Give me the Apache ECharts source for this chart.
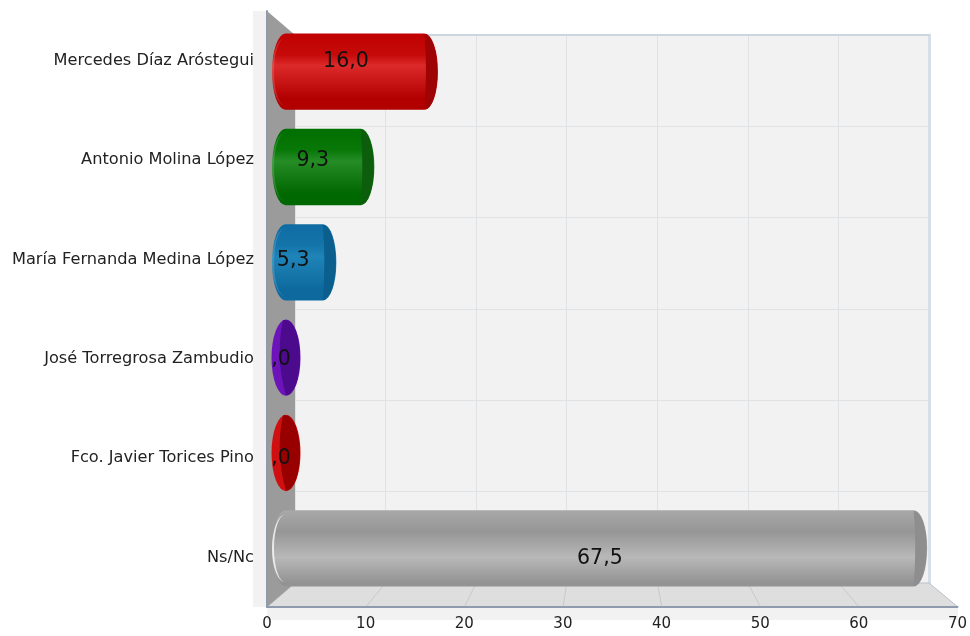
<!DOCTYPE html>
<html><head><meta charset="utf-8">
<style>html,body{margin:0;padding:0;background:#fff}#c{width:970px;height:636px}</style>
<script src="https://cdn.jsdelivr.net/npm/echarts@6/dist/echarts.min.js"></script>
</head><body><div id="c"></div>
<script>
const categories = ['Mercedes Díaz Aróstegui','Antonio Molina López','María Fernanda Medina López','José Torregrosa Zambudio','Fco. Javier Torices Pino','Ns/Nc'];
const values = [16.0, 9.3, 5.3, 0, 0, 67.5];
const topShade = ['#c00000','#006e00','#0f6ca2','#5a0a9c','#a80000','#a8a8a8'];
const midShade = ['#c60a0a','#087808','#1475ab','#5a0a9c','#a80000','#969696'];
const lightShade = ['#dc2a2a','#268c26','#1f84b8','#6c14ba','#d01010','#b8b8b8'];
const bottomShade = ['#b20000','#006800','#0e6a9e','#5a0a9c','#a80000','#939393'];
const capShade = ['#9e0404','#0c5e0c','#0b5f8e','#4c0a8c','#980000','#8e8e8e'];
const rimAlpha = [0.15,0.15,0.15,0.3,0.3,0.75];

const LF = '"DejaVu Sans"';
const F = {l:267, t:11, r:958, b:607};   // front plane
const B = {l:295, t:35, r:929, b:583};   // back plane
const ticks = [0,10,20,30,40,50,60,70];
const px = (p,v)=>p.l+(p.r-p.l)*v/70;

const chart = echarts.init(document.getElementById('c'));

function bar(params, api){
  const i = api.value(2), v = api.value(0);
  const c = api.coord([v, api.value(1)]);
  const c0 = api.coord([0, api.value(1)]);
  const h = api.size([0,1])[1]*0.8, ry = h/2;
  const y0 = c[1]-ry, y1 = c[1]+ry;
  const grad = ()=>new echarts.graphic.LinearGradient(0,0,0,1,[
    {offset:0,color:topShade[i]},{offset:.28,color:midShade[i]},{offset:i===5?.62:.42,color:lightShade[i]},{offset:i===5?.95:.85,color:bottomShade[i]},{offset:1,color:bottomShade[i]}]);
  const els = [];
  if (v === 0){
    const cx = c0[0]+13.5, rx = 14.5;
    els.push({type:'path',shape:{pathData:`M${cx} ${y0}A${rx} ${ry} 0 1 1 ${cx} ${y1}A${rx} ${ry} 0 1 1 ${cx} ${y0}Z`},
      style:{fill:lightShade[i]}});
    els.push({type:'path',shape:{pathData:`M${cx} ${y0+.5}A${rx-.5} ${ry-.5} 0 0 1 ${cx} ${y1-.5}Q${cx-11} ${c[1]} ${cx-3} ${y0+.5}Z`},
      style:{fill:capShade[i]}});
  } else {
    const rx = 13.5, L = c0[0]+rx-0.5, cx = c[0];
    els.push({type:'path',shape:{pathData:`M${L} ${y0}L${cx} ${y0}A${rx} ${ry} 0 0 1 ${cx} ${y1}L${L} ${y1}A${rx} ${ry} 0 0 1 ${L} ${y0}Z`},
      style:{fill:grad()}});
    els.push({type:'path',shape:{pathData:`M${cx} ${y0+.5}A${rx-.5} ${ry-.5} 0 0 1 ${cx} ${y1-.5}Q${cx+3} ${c[1]} ${cx} ${y0+.5}Z`},
      style:{fill:capShade[i]}});
    els.push({type:'path',shape:{pathData:`M${L} ${y0+4}A${rx} ${ry-4} 0 0 0 ${L} ${y1-4}A${rx-2} ${ry-4} 0 0 1 ${L} ${y0+4}Z`},
      style:{fill:`rgba(255,255,255,${rimAlpha[i]})`}});
  }
  return {type:'group',children:els};
}
function lab(params, api){
  const v = api.value(0);
  const c = api.coord([v/2, api.value(1)]);
  const s = v.toFixed(1).replace('.',',').replace(/^0/,'');
  return {type:'text',x:Math.max(c[0],281),y:c[1]+1,
    style:{text:s,fill:'#111',font:'20.5px '+LF,align:'center',verticalAlign:'middle'}};
}

const frame = [
  {type:'rect',z:1,shape:{x:253,y:F.t,width:F.l-253,height:F.b-F.t},style:{fill:'#f2f2f2'}},
  {type:'rect',z:1,shape:{x:F.l,y:F.b,width:F.r-F.l,height:13},style:{fill:'#f2f2f2'}},
  {type:'polygon',z:1,shape:{points:[[F.l,F.b],[B.l,B.b],[B.r,B.b],[F.r,F.b]]},style:{fill:'#dedede',stroke:'#b9c2cb',lineWidth:1}},
  ...ticks.slice(1,-1).map(t=>({type:'line',z:1,shape:{x1:px(F,t),y1:F.b,x2:px(B,t),y2:B.b},style:{stroke:'#c9c9c9',lineWidth:1}})),
  {type:'polygon',z:1,shape:{points:[[F.l,F.t],[B.l,B.t],[B.l,B.b],[F.l,F.b]]},style:{fill:'#9b9b9b'}}
];
const rows = values.map((v,i)=>[v,categories[i],i]);
chart.setOption({
  animation:false,
  backgroundColor:'#fff',
  graphic:frame,
  grid:[
    {left:F.l,top:F.t,width:F.r-F.l,height:F.b-F.t,containLabel:false},
    {left:B.l,top:B.t,width:B.r-B.l,height:B.b-B.t,show:true,backgroundColor:'#f2f2f2',borderWidth:0},
    {left:272.5,top:24,width:665,height:572}
  ],
  xAxis:[
    {gridIndex:0,type:'value',min:0,max:70,interval:10,z:3,
      axisLine:{show:true,onZero:false,lineStyle:{color:'#8d9bad',width:2}},axisTick:{show:false},splitLine:{show:false},
      axisLabel:{color:'#222',fontFamily:LF,fontSize:15,margin:10}},
    {gridIndex:1,type:'value',min:0,max:70,interval:10,position:'top',
      axisLine:{show:true,onZero:false,lineStyle:{color:'#ccd5e0',width:2}},axisTick:{show:false},axisLabel:{show:false},
      splitLine:{show:true,lineStyle:{color:'#e0e3e6',width:1}}},
    {gridIndex:2,type:'value',min:0,max:70,show:false}
  ],
  yAxis:[
    {gridIndex:0,type:'category',data:categories,inverse:true,z:3,
      axisLine:{show:true,onZero:false,lineStyle:{color:'#8d9bad',width:2}},axisTick:{show:false},
      axisLabel:{color:'#222',fontFamily:LF,fontSize:16.2,margin:13,interval:0}},
    {gridIndex:1,type:'category',data:categories,inverse:true,position:'right',
      axisLine:{show:true,onZero:false,lineStyle:{color:'#d6deea',width:3}},axisTick:{show:false},axisLabel:{show:false},
      splitLine:{show:true,interval:0,lineStyle:{color:'#e0e3e6',width:1}}},
    {gridIndex:2,type:'category',data:categories,inverse:true,show:false}
  ],
  series:[
    {type:'custom',xAxisIndex:2,yAxisIndex:2,z:5,clip:false,renderItem:bar,data:rows,encode:{x:0,y:1}},
    {type:'custom',xAxisIndex:0,yAxisIndex:0,z:6,clip:false,renderItem:lab,data:rows,encode:{x:0,y:1}}
  ]
});
</script></body></html>
